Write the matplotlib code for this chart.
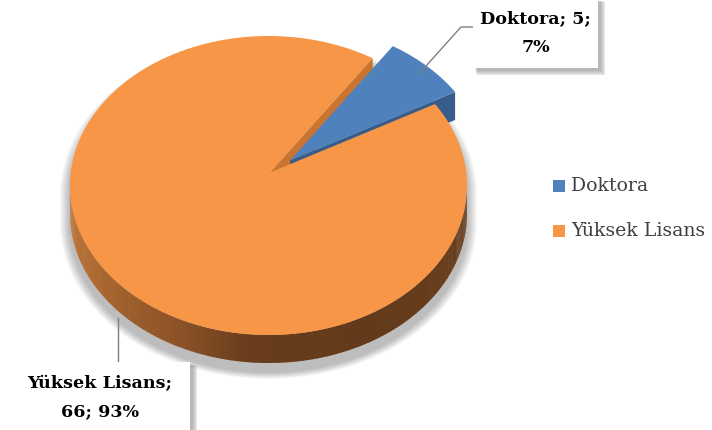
import numpy as np
import matplotlib.pyplot as plt
from matplotlib.patches import Polygon, Rectangle
from matplotlib.colors import to_rgb

# ---------------------------------------------------------------------------
# Data
# ---------------------------------------------------------------------------
CATEGORIES = ["Doktora", "Yüksek Lisans"]
COUNTS = [5, 66]
COLORS = ["#4F81BD", "#F79646"]
CUT_COLORS = ["#385D8A", "#C97530"]

# ---------------------------------------------------------------------------
# Layout (pixel space, y pointing down)
# ---------------------------------------------------------------------------
W, H = 712, 430
CX, CY = 268.5, 185.5      # centre of the top ellipse
RX, RY = 198.5, 149.5      # radii of the top ellipse
APEX = (270.0, 172.5)      # projected centre of the disc (perspective)
DEPTH = 28.0               # thickness of the disc
START = 33.0               # angle where the first slice starts (deg, ccw)
EXPLODE = 0.145
SQUASH = 0.78              # perspective flattening of the explode offset
FONT = "DejaVu Serif"


def rim(theta, dx=0.0, dy=0.0):
    t = np.radians(theta)
    return np.column_stack([CX + RX * np.cos(t) + dx, CY - RY * np.sin(t) + dy])


def blend(c1, c2, f):
    a, b = np.array(to_rgb(c1)), np.array(to_rgb(c2))
    return tuple(a + (b - a) * f)


fig = plt.figure(figsize=(W / 100, H / 100), dpi=100)
ax = fig.add_axes([0, 0, 1, 1])
ax.set_xlim(0, W)
ax.set_ylim(H, 0)
ax.axis("off")

total = sum(COUNTS)
spans = [360.0 * c / total for c in COUNTS]
bounds = np.concatenate([[START], START + np.cumsum(spans)])

# soft shadow under the whole disc (pushed down so the top stays clean)
sil = np.vstack([rim(np.linspace(0, 180, 120)),
                 rim(np.linspace(180, 360, 120), dy=DEPTH)])
c = sil.mean(axis=0)
for k in range(10, 0, -1):
    sx = 1 + k / RX
    sy = 1 + 0.7 * k / (RY + DEPTH / 2)
    pts = (sil - c) * [sx, sy] + c + [0, 9]
    ax.add_patch(Polygon(pts, closed=True, fc="black", ec="none",
                         alpha=0.028, zorder=1))

# slice offsets
offsets = []
for i in range(len(COUNTS)):
    mid = np.radians((bounds[i] + bounds[i + 1]) / 2)
    e = EXPLODE if i == 0 else 0.0
    offsets.append((RX * e * np.cos(mid), -RY * SQUASH * e * np.sin(mid)))

# --- Doktora (exploded, at the back)
dx, dy = offsets[0]
a0, a1 = bounds[0], bounds[1]
ap = np.array([APEX[0] + dx, APEX[1] + dy])

# orange cut face at the far edge of the big slice (seen through the gap)
o_edge = rim(np.array([a1]))[0]
ax.add_patch(Polygon([APEX, o_edge, o_edge + [0, DEPTH],
                      [APEX[0], APEX[1] + DEPTH]], closed=True,
                     fc=CUT_COLORS[1], ec="none", zorder=2))

edge0 = rim(np.array([a0]), dx, dy)[0]
ax.add_patch(Polygon([ap, edge0, edge0 + [0, DEPTH], ap + [0, DEPTH]],
                     closed=True, fc=CUT_COLORS[0], ec="none", zorder=3))
arc = rim(np.linspace(a0, a1, 60), dx, dy)
ax.add_patch(Polygon(np.vstack([ap, arc]), closed=True,
                     fc=COLORS[0], ec="none", zorder=4))

# --- Yüksek Lisans: outer wall with gradient
stops = [(180, "#C47B3B"), (215, "#A9662F"), (245, "#8A5127"),
         (265, "#683C1C"), (300, "#633A1B"), (360, "#6C401F")]
st_a = [s[0] for s in stops]
ths = np.linspace(180, 360, 181)
for t0, t1 in zip(ths[:-1], ths[1:]):
    tm = (t0 + t1) / 2
    j = np.searchsorted(st_a, tm) - 1
    j = min(max(j, 0), len(stops) - 2)
    f = (tm - st_a[j]) / (st_a[j + 1] - st_a[j])
    col = blend(stops[j][1], stops[j + 1][1], f)
    top = rim(np.array([t0, t1 + 0.3]))
    bot = top[::-1] + [0, DEPTH]
    ax.add_patch(Polygon(np.vstack([top, bot]), closed=True,
                         fc=col, ec="none", zorder=5))

b0, b1 = bounds[1], bounds[2]
arc = rim(np.linspace(b0, b1, 400))
ax.add_patch(Polygon(np.vstack([APEX, arc]), closed=True,
                     fc=COLORS[1], ec="none", zorder=6))

# ---------------------------------------------------------------------------
# Data labels with leader lines
# ---------------------------------------------------------------------------
pct = [round(100 * c / total) for c in COUNTS]


def label_box(x0, y0, x1, y1, text, tx, ty):
    for k in range(6, 0, -1):
        ax.add_patch(Rectangle((x0 + 2 + k * 0.3, y0 + 2 + k * 0.3),
                               x1 - x0 + k * 0.6, y1 - y0 + k * 0.6,
                               fc="black", ec="none", alpha=0.05, zorder=8))
    ax.add_patch(Rectangle((x0, y0), x1 - x0, y1 - y0, fc="white",
                           ec="none", zorder=9))
    ax.text(tx, ty, text, ha="center", va="center", fontsize=12.6,
            fontweight="bold", family=FONT, linespacing=1.9, zorder=10)


mid0 = (bounds[0] + bounds[1]) / 2
p = rim(np.array([mid0]), dx, dy)[0]
ax.plot([p[0] - 8, 461, 473], [p[1] + 7, 27, 27], color="#7F7F7F",
        lw=1, zorder=7)
label_box(473, -2, 598, 68,
          f"{CATEGORIES[0]}; {COUNTS[0]};\n{pct[0]}%", 535.5, 33)

ax.plot([118, 118], [318, 362], color="#7F7F7F", lw=1, zorder=7)
label_box(10, 362, 190, 440,
          f"{CATEGORIES[1]};\n{COUNTS[1]}; {pct[1]}%", 100, 397.5)

# ---------------------------------------------------------------------------
# Legend
# ---------------------------------------------------------------------------
for i, (name, col) in enumerate(zip(CATEGORIES, COLORS)):
    y = 186 + i * 45
    ax.add_patch(Rectangle((553, y - 6), 12, 12, fc=col, ec="none"))
    ax.text(571, y, name, ha="left", va="center", fontsize=13.6,
            family=FONT, color="#404040")

fig.savefig("out.png", dpi=100)
